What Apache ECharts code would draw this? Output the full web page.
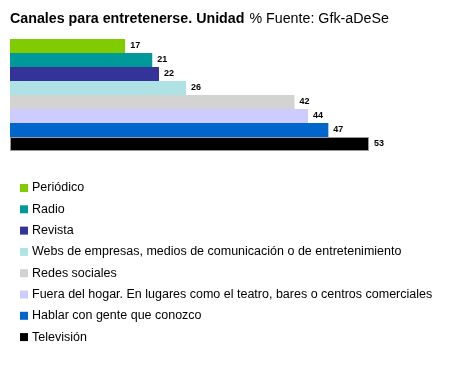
<!DOCTYPE html>
<html>
<head>
<meta charset="utf-8">
<script src="https://cdn.jsdelivr.net/npm/echarts@6/dist/echarts.min.js"></script>
<style>html,body{margin:0;padding:0;background:#fff;}#c{width:470px;height:371px;}</style>
</head>
<body>
<div id="c"></div>
<script>
var categories = ["Periódico", "Radio", "Revista", "Webs de empresas, medios de comunicación o de entretenimiento", "Redes sociales", "Fuera del hogar. En lugares como el teatro, bares o centros comerciales", "Hablar con gente que conozco", "Televisión"];
var values = [17, 21, 22, 26, 42, 44, 47, 53];
var colors = ["#80CC00", "#009999", "#333399", "#AEE2E4", "#D3D3D3", "#CCCCFF", "#0066CC", "#000000"];

var chart = echarts.init(document.getElementById('c'));
var series = categories.map(function (name, i) {
  var d = categories.map(function (c, j) { return j === i ? values[i] : '-'; });
  return {
    name: name,
    type: 'bar',
    stack: 'all',
    barWidth: '100%',
    data: d,
    itemStyle: { color: colors[i], borderColor: i === 7 ? '#999' : null, borderWidth: i === 7 ? 1 : 0 },
    label: {
      show: true, position: 'right', distance: 5,
      fontFamily: 'Liberation Sans, Arial, sans-serif', fontSize: 9, fontWeight: 'bold', color: '#000'
    },
    animation: false
  };
});

chart.setOption({
  animation: false,
  title: {
    left: 10, top: 10, padding: 0,
    text: '{b|Canales para entretenerse. Unidad} {n|% Fuente: Gfk-aDeSe}',
    textStyle: {
      rich: {
        b: { fontFamily: 'Liberation Sans, Arial, sans-serif', fontSize: 14.25, fontWeight: 'bold', color: '#000' },
        n: { fontFamily: 'Liberation Sans, Arial, sans-serif', fontSize: 14.25, fontWeight: 'normal', color: '#000' }
      }
    }
  },
  grid: { left: 10, top: 39, width: 359, height: 112, containLabel: false },
  xAxis: { type: 'value', min: 0, max: 53, show: false },
  yAxis: { type: 'category', data: categories, inverse: true, show: false },
  legend: {
    orient: 'vertical', left: 20, top: 181, padding: 0,
    itemWidth: 8, itemHeight: 8, itemGap: 7.3, icon: 'rect',
    itemStyle: { borderWidth: 0 },
    textStyle: { fontFamily: 'Liberation Sans, Arial, sans-serif', fontSize: 12.5, color: '#000', lineHeight: 14, padding: [0, 0, 0, -1] },
    data: categories
  },
  series: series
});
</script>
</body>
</html>
